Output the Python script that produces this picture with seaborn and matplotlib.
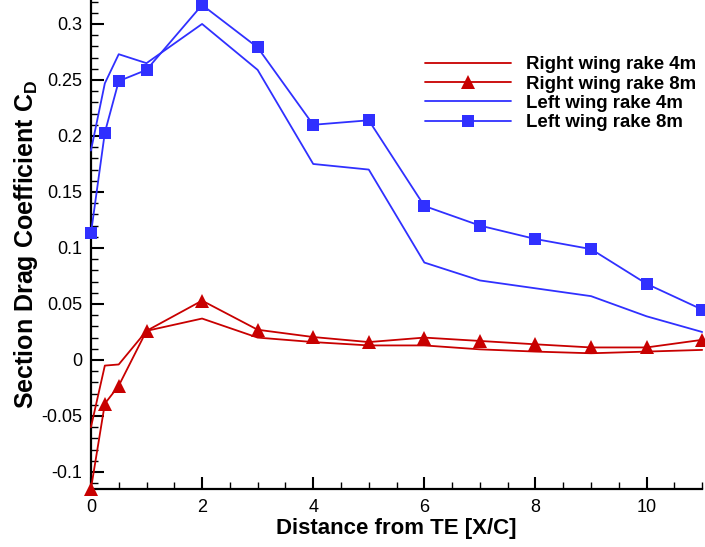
import numpy as np
import pandas as pd
import matplotlib
matplotlib.use("Agg")
import matplotlib.pyplot as plt
import seaborn as sns
from matplotlib.ticker import MultipleLocator, FuncFormatter

# ---- data ----
x_pos = [0, 0.25, 0.5, 1, 2, 3, 4, 5, 6, 7, 8, 9, 10, 11]
right_4m = [-0.060, -0.005, -0.004, 0.026, 0.037, 0.020, 0.016, 0.013, 0.013, 0.0095, 0.0075, 0.006, 0.0075, 0.009]
right_8m = [-0.115, -0.039, -0.023, 0.026, 0.053, 0.027, 0.0205, 0.016, 0.020, 0.017, 0.014, 0.0112, 0.0112, 0.018]
left_4m = [0.187, 0.247, 0.273, 0.265, 0.300, 0.259, 0.175, 0.170, 0.087, 0.071, 0.064, 0.057, 0.039, 0.025]
left_8m = [0.113, 0.203, 0.249, 0.259, 0.317, 0.279, 0.210, 0.214, 0.1375, 0.120, 0.108, 0.099, 0.068, 0.045]
series_names = ["Right wing rake 4m", "Right wing rake 8m", "Left wing rake 4m", "Left wing rake 8m"]

RED = "#C80000"
BLUE = "#3030FF"

sns.set_theme(style="white")
plt.rcParams["font.family"] = ["Liberation Sans", "DejaVu Sans"]
plt.rcParams["mathtext.fontset"] = "custom"
plt.rcParams["mathtext.bf"] = "Liberation Sans:bold"
plt.rcParams["mathtext.rm"] = "Liberation Sans"

fig = plt.figure(figsize=(7.05, 5.47), dpi=100)
ax = fig.add_axes([0.129, 0.1064, 0.867, 0.8936])

styles = [
    (right_4m, RED, None, 0),
    (right_8m, RED, "^", 9.5),
    (left_4m, BLUE, None, 0),
    (left_8m, BLUE, "s", 8.5),
]
for name, (vals, col, mk, ms) in zip(series_names, styles):
    df = pd.DataFrame({"x": x_pos, "y": vals})
    sns.lineplot(data=df, x="x", y="y", ax=ax, color=col, linewidth=1.3,
                 marker=mk, markersize=ms, markeredgewidth=0, label=name,
                 clip_on=False, zorder=3)

ax.set_xlim(0, 11)
ax.set_ylim(-0.115, 0.3214)

ax.xaxis.set_major_locator(MultipleLocator(2))
ax.xaxis.set_minor_locator(MultipleLocator(0.5))
ax.yaxis.set_major_locator(MultipleLocator(0.05))
ax.yaxis.set_minor_locator(MultipleLocator(0.01))
ax.yaxis.set_major_formatter(FuncFormatter(lambda v, p: "0" if abs(v) < 1e-9 else ("%g" % round(v, 3))))
ax.xaxis.set_major_formatter(FuncFormatter(lambda v, p: "%g" % v))

ax.tick_params(axis="both", which="major", direction="in", length=9, width=1.5,
               color="black", labelsize=13, labelcolor="black", pad=6)
ax.tick_params(axis="x", which="major", pad=7)
ax.tick_params(axis="both", which="minor", direction="in", length=5, width=1.0, color="black")
ax.tick_params(axis="both", which="both", bottom=True, left=True, top=False, right=False)

for side in ["top", "right"]:
    ax.spines[side].set_visible(False)
for side in ["left", "bottom"]:
    ax.spines[side].set_color("black")
    ax.spines[side].set_linewidth(1.6)

ax.set_xlabel("Distance from TE [X/C]", fontsize=16, fontweight="bold", color="black", labelpad=2)
ax.set_ylabel(r"Section Drag Coefficient C$_{\mathbf{D}}$", fontsize=18, fontweight="bold",
              color="black", labelpad=1.5)

leg = ax.legend(loc="upper right", bbox_to_anchor=(1.003, 0.90), frameon=False,
                prop={"weight": "bold", "size": 13.4}, handlelength=4.6, handletextpad=0.85,
                labelspacing=0.12, borderaxespad=0.0)
for t in leg.get_texts():
    t.set_color("black")

fig.savefig("out.png", dpi=100)
